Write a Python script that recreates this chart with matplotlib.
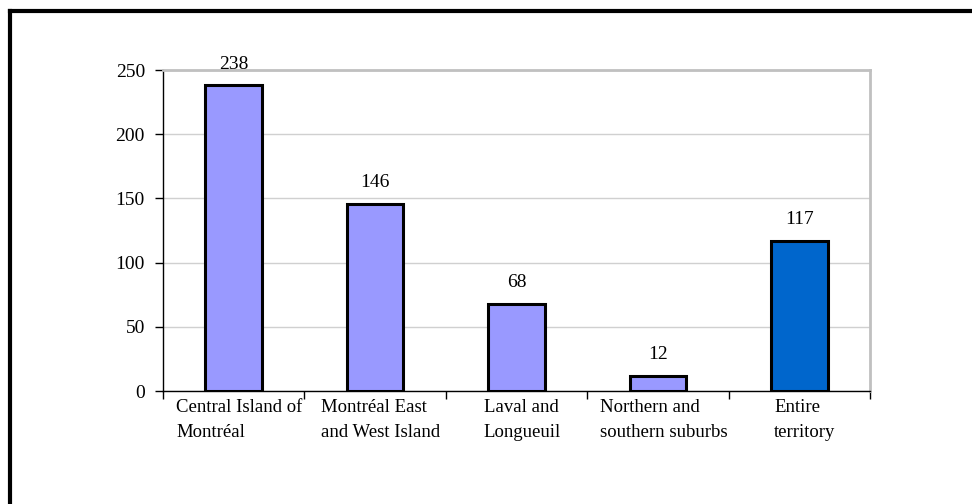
import matplotlib.pyplot as plt
import numpy as np

categories = ["Central Island of\nMontréal", "Montréal East\nand West Island",
              "Laval and\nLongueuil", "Northern and\nsouthern suburbs",
              "Entire\nterritory"]
values = [238, 146, 68, 12, 117]
bar_colors = ["#9999FF", "#9999FF", "#9999FF", "#9999FF", "#0066CC"]
yticks = [0, 50, 100, 150, 200, 250]

plt.rcParams['font.family'] = ['Liberation Serif', 'DejaVu Serif']

fig = plt.figure(figsize=(9.72, 5.04), dpi=100)
ax = fig.add_axes([163 / 972, 1 - 391 / 504, (870 - 163) / 972, (391 - 70) / 504])

x = np.arange(len(values))
ax.bar(x, values, width=0.4, color=bar_colors, edgecolor="black", linewidth=2.2, zorder=3)

for xi, v in zip(x, values):
    ax.annotate(str(v), (xi, v), xytext=(0, 9), textcoords="offset points",
                ha="center", va="bottom", fontsize=14)

ax.set_xlim(-0.5, len(values) - 0.5)
ax.set_ylim(0, 250)
ax.set_yticks(yticks)
ax.tick_params(axis="y", labelsize=14, length=6, width=1, direction="out", pad=7)
ax.grid(axis="y", color="#D0D0D0", linewidth=1, zorder=0)

# category boundary ticks, labels drawn separately (centred block, left-aligned lines)
ax.set_xticks(np.arange(len(values) + 1) - 0.5)
ax.set_xticklabels([])
ax.tick_params(axis="x", length=6, width=1, direction="out")
for xi, lab in zip(x, categories):
    ax.text(xi + 0.04, -0.025, lab, transform=ax.get_xaxis_transform(), ha="center", va="top",
            multialignment="left", fontsize=13.5, linespacing=1.6)

for s in ["left", "bottom"]:
    ax.spines[s].set_color("black")
    ax.spines[s].set_linewidth(1)
for s in ["top", "right"]:
    ax.spines[s].set_color("#C0C0C0")
    ax.spines[s].set_linewidth(2)

# outer frame: top and left only
fig.add_artist(plt.Line2D([10 / 972, 1], [1 - 10.5 / 504, 1 - 10.5 / 504], color="black", linewidth=3,
                          solid_capstyle="projecting", transform=fig.transFigure))
fig.add_artist(plt.Line2D([10 / 972, 10 / 972], [0, 1 - 10.5 / 504], color="black", linewidth=3,
                          solid_capstyle="projecting", transform=fig.transFigure))

fig.savefig("out.png", dpi=100)
